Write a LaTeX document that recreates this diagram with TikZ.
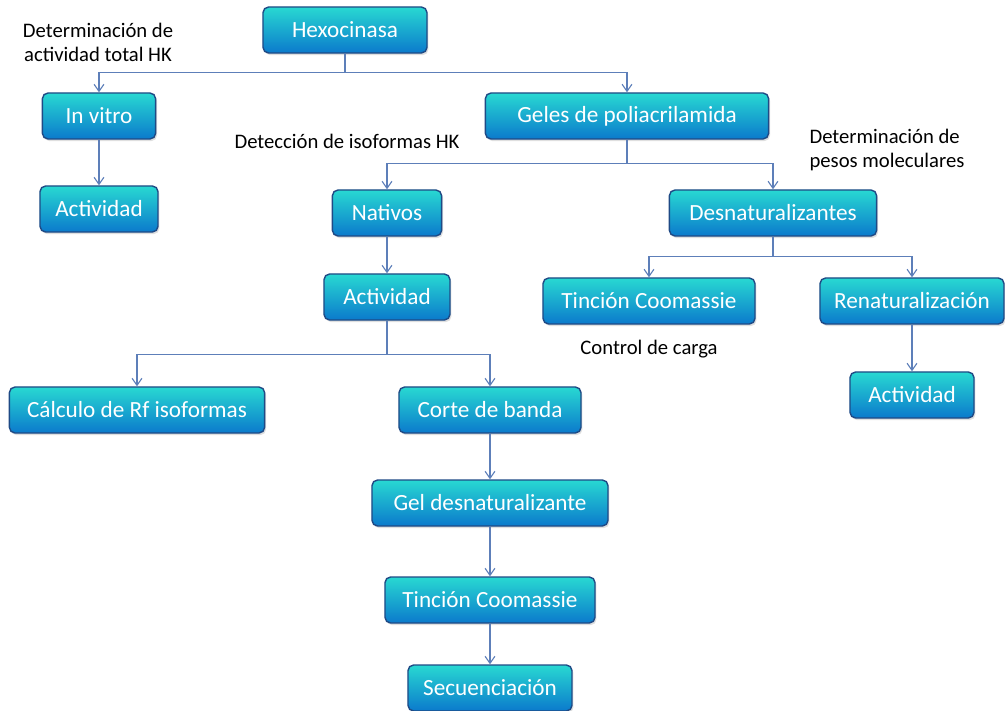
\documentclass[tikz,border=0pt]{standalone}
\usepackage{fontspec}
\setmainfont{Carlito}
\usetikzlibrary{arrows.meta,shadows}
\definecolor{boxtop}{HTML}{28D8D2}
\definecolor{boxmid}{HTML}{14B0E2}
\definecolor{boxbot}{HTML}{0B7ACC}
\definecolor{boxline}{HTML}{1F4A85}
\definecolor{linkcol}{HTML}{5D7FB9}
\tikzset{
    -{Straight Barb[length=5pt,width=7pt]},semithick,
    box/.style ={rectangle, rounded corners=4pt, draw=boxline, line width=1pt,
        top color=boxtop, middle color=boxmid, bottom color=boxbot,
        text=white, inner sep=0pt,
        font=\fontsize{16.5}{20}\selectfont, minimum height=1.15cm,
        drop shadow={opacity=0.25, shadow xshift=1pt, shadow yshift=-1.5pt}},
    note/.style = {inner sep=0pt, align=left, font=\fontsize{14.7}{17}\selectfont},
    link/.style = {draw=linkcol, line width=0.8pt}
}

\begin{document}
\begin{tikzpicture}[x=0.025cm,y=-0.025cm]
    \useasboundingbox (0,0) rectangle (1005,710);

    \node[box, minimum width=4.1cm] (hexo) at (345,30) {Hexocinasa};

    % first level
    \node[box, minimum width=2.83cm] (invitro) at (99,116) {In vitro};
    \node[box, minimum width=7.08cm] (geles) at (627,116) {Geles de poliacrilamida};
    \node[box, minimum width=2.95cm] (actL) at (99,209) {Actividad};

    % geles
    \node[box, minimum width=2.73cm] (nativos) at (387,213) {Nativos};
    \node[box, minimum width=5.18cm] (desnat) at (773,213) {Desnaturalizantes};
    \node[box, minimum width=3.15cm] (actM) at (387,297) {Actividad};
    \node[box, minimum width=5.3cm] (tincR) at (649,301) {Tinción Coomassie};
    \node[box, minimum width=4.6cm] (renat) at (912,301) {Renaturalización};
    \node[box, minimum width=3.1cm] (actR) at (912,395) {Actividad};

    % nativos
    \node[box, minimum width=6.38cm] (calc) at (137,410) {Cálculo de Rf isoformas};
    \node[box, minimum width=4.55cm] (corte) at (490,410) {Corte de banda};
    \node[box, minimum width=5.9cm] (geldes) at (490,503) {Gel desnaturalizante};
    \node[box, minimum width=5.25cm] (tincB) at (490,600) {Tinción Coomassie};
    \node[box, minimum width=4.1cm] (secu) at (490,688) {Secuenciación};

    % notes
    \node[note, align=center] (lblHK) at (98,42) {Determinación de\\actividad total HK};
    \node[note] (lblIso) at (347,141) {Detección de isoformas HK};
    \node[note] (lblPM) at (887,150) {Determinación de\\pesos moleculares};
    \node[note] (lblCarga) at (649,349) {Control de carga};

    % branches
    \draw[link] (hexo.south) -- ++(0,19) -| (invitro.north);
    \draw[link] (hexo.south) -- ++(0,19) -| (geles.north);
    \draw[link] (geles.south) -- ++(0,24) -| (nativos.north);
    \draw[link] (geles.south) -- ++(0,24) -| (desnat.north);
    \draw[link] (desnat.south) -- ++(0,20) -| (tincR.north);
    \draw[link] (desnat.south) -- ++(0,20) -| (renat.north);
    \draw[link] (actM.south) -- ++(0,34) -| (calc.north);
    \draw[link] (actM.south) -- ++(0,34) -| (corte.north);

    % straight edges
    \path[link] (invitro) edge (actL);
    \path[link] (nativos) edge (actM);
    \path[link] (renat) edge (actR);
    \path[link] (corte) edge (geldes);
    \path[link] (geldes) edge (tincB);
    \path[link] (tincB) edge (secu);

\end{tikzpicture}
\end{document}
